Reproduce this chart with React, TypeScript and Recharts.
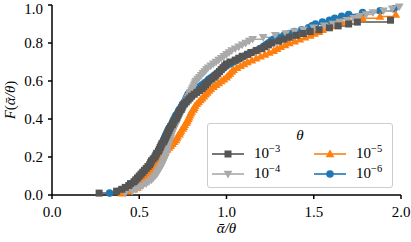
import { LineChart, Line, XAxis, YAxis, Legend, Label } from 'recharts';

const FONT = "'Liberation Serif', serif";

const ECDF_1E3: [number, number][] = [
  [0.27, 0.01], [0.37, 0.02], [0.40, 0.03], [0.42, 0.04], [0.44, 0.05], [0.45, 0.06],
  [0.47, 0.07], [0.48, 0.08], [0.49, 0.09], [0.50, 0.10], [0.51, 0.11], [0.52, 0.12],
  [0.53, 0.13], [0.54, 0.14], [0.55, 0.15], [0.56, 0.16], [0.565, 0.17], [0.57, 0.18],
  [0.58, 0.19], [0.59, 0.20], [0.595, 0.21], [0.60, 0.22], [0.61, 0.23], [0.615, 0.24],
  [0.62, 0.25], [0.625, 0.26], [0.63, 0.27], [0.64, 0.28], [0.645, 0.29], [0.65, 0.30],
  [0.655, 0.31], [0.66, 0.32], [0.665, 0.33], [0.67, 0.34], [0.675, 0.35], [0.68, 0.36],
  [0.69, 0.37], [0.695, 0.38], [0.70, 0.39], [0.71, 0.40], [0.715, 0.41], [0.72, 0.42],
  [0.725, 0.43], [0.73, 0.44], [0.74, 0.45], [0.745, 0.46], [0.75, 0.47], [0.76, 0.48],
  [0.77, 0.49], [0.78, 0.50], [0.79, 0.51], [0.80, 0.52], [0.815, 0.53], [0.83, 0.54],
  [0.845, 0.55], [0.86, 0.56], [0.87, 0.57], [0.88, 0.58], [0.89, 0.59], [0.90, 0.60],
  [0.915, 0.61], [0.93, 0.62], [0.94, 0.63], [0.95, 0.64], [0.96, 0.65], [0.97, 0.66],
  [0.98, 0.67], [0.99, 0.68], [1.00, 0.69], [1.02, 0.70], [1.05, 0.71], [1.07, 0.72],
  [1.09, 0.73], [1.12, 0.74], [1.14, 0.75], [1.17, 0.76], [1.20, 0.77], [1.22, 0.78],
  [1.24, 0.79], [1.26, 0.80], [1.30, 0.81], [1.33, 0.82], [1.36, 0.83], [1.40, 0.84],
  [1.44, 0.85], [1.48, 0.86], [1.53, 0.87], [1.59, 0.88], [1.64, 0.89], [1.70, 0.90],
  [1.75, 0.91], [1.94, 0.92],
];

const ECDF_1E4: [number, number][] = [
  [0.42, 0.01], [0.46, 0.02], [0.48, 0.03], [0.50, 0.04], [0.52, 0.05], [0.54, 0.06],
  [0.555, 0.07], [0.57, 0.08], [0.58, 0.09], [0.59, 0.10], [0.60, 0.11], [0.605, 0.12],
  [0.61, 0.13], [0.62, 0.14], [0.625, 0.15], [0.63, 0.16], [0.635, 0.17], [0.64, 0.18],
  [0.645, 0.19], [0.65, 0.20], [0.652, 0.21], [0.655, 0.22], [0.658, 0.23], [0.66, 0.24],
  [0.663, 0.25], [0.666, 0.26], [0.67, 0.27], [0.673, 0.28], [0.677, 0.29], [0.68, 0.30],
  [0.683, 0.31], [0.686, 0.32], [0.69, 0.33], [0.694, 0.34], [0.70, 0.35], [0.705, 0.36],
  [0.71, 0.37], [0.715, 0.38], [0.72, 0.39], [0.725, 0.40], [0.73, 0.41], [0.735, 0.42],
  [0.74, 0.43], [0.745, 0.44], [0.75, 0.45], [0.755, 0.46], [0.76, 0.47], [0.765, 0.48],
  [0.77, 0.49], [0.775, 0.50], [0.78, 0.51], [0.785, 0.52], [0.79, 0.53], [0.795, 0.54],
  [0.80, 0.55], [0.805, 0.56], [0.81, 0.57], [0.815, 0.58], [0.82, 0.59], [0.825, 0.60],
  [0.835, 0.61], [0.845, 0.62], [0.855, 0.63], [0.865, 0.64], [0.875, 0.65], [0.885, 0.66],
  [0.895, 0.67], [0.91, 0.68], [0.925, 0.69], [0.94, 0.70], [0.955, 0.71], [0.97, 0.72],
  [0.985, 0.73], [1.00, 0.74], [1.015, 0.75], [1.03, 0.76], [1.05, 0.77], [1.07, 0.78],
  [1.09, 0.79], [1.11, 0.80], [1.13, 0.81], [1.15, 0.82], [1.21, 0.83], [1.28, 0.84],
  [1.34, 0.85], [1.39, 0.86], [1.44, 0.87], [1.50, 0.88], [1.56, 0.89], [1.61, 0.90],
  [1.65, 0.91], [1.69, 0.92], [1.73, 0.93], [1.76, 0.94], [1.80, 0.95], [1.84, 0.96],
  [1.90, 0.97], [1.95, 0.98], [1.99, 0.99],
];

const ECDF_1E5: [number, number][] = [
  [0.40, 0.01], [0.44, 0.02], [0.47, 0.03], [0.49, 0.04], [0.50, 0.05], [0.51, 0.06],
  [0.52, 0.07], [0.53, 0.08], [0.54, 0.09], [0.55, 0.10], [0.56, 0.11], [0.565, 0.12],
  [0.57, 0.13], [0.58, 0.14], [0.585, 0.15], [0.59, 0.16], [0.60, 0.17], [0.61, 0.18],
  [0.615, 0.19], [0.62, 0.20], [0.63, 0.21], [0.64, 0.22], [0.65, 0.23], [0.66, 0.24],
  [0.67, 0.25], [0.68, 0.26], [0.69, 0.27], [0.70, 0.28], [0.71, 0.29], [0.715, 0.30],
  [0.72, 0.31], [0.73, 0.32], [0.735, 0.33], [0.74, 0.34], [0.75, 0.35], [0.755, 0.36],
  [0.76, 0.37], [0.77, 0.38], [0.775, 0.39], [0.78, 0.40], [0.785, 0.41], [0.79, 0.42],
  [0.795, 0.43], [0.80, 0.44], [0.81, 0.45], [0.815, 0.46], [0.82, 0.47], [0.83, 0.48],
  [0.84, 0.49], [0.85, 0.50], [0.86, 0.51], [0.87, 0.52], [0.88, 0.53], [0.89, 0.54],
  [0.90, 0.55], [0.91, 0.56], [0.925, 0.57], [0.94, 0.58], [0.955, 0.59], [0.97, 0.60],
  [0.985, 0.61], [1.00, 0.62], [1.01, 0.63], [1.02, 0.64], [1.03, 0.65], [1.04, 0.66],
  [1.06, 0.67], [1.08, 0.68], [1.10, 0.69], [1.12, 0.70], [1.145, 0.71], [1.17, 0.72],
  [1.195, 0.73], [1.22, 0.74], [1.245, 0.75], [1.27, 0.76], [1.29, 0.77], [1.31, 0.78],
  [1.335, 0.79], [1.36, 0.80], [1.39, 0.81], [1.42, 0.82], [1.45, 0.83], [1.48, 0.84],
  [1.505, 0.85], [1.53, 0.86], [1.55, 0.87], [1.57, 0.88], [1.60, 0.89], [1.63, 0.90],
  [1.66, 0.91], [1.70, 0.92], [1.78, 0.93], [1.88, 0.94], [1.97, 0.95],
];

const ECDF_1E6: [number, number][] = [
  [0.33, 0.01], [0.38, 0.02], [0.41, 0.03], [0.43, 0.04], [0.45, 0.05], [0.46, 0.06],
  [0.48, 0.07], [0.49, 0.08], [0.50, 0.09], [0.51, 0.10], [0.52, 0.11], [0.53, 0.12],
  [0.54, 0.13], [0.55, 0.14], [0.56, 0.15], [0.565, 0.16], [0.57, 0.17], [0.58, 0.18],
  [0.585, 0.19], [0.59, 0.20], [0.60, 0.21], [0.605, 0.22], [0.61, 0.23], [0.615, 0.24],
  [0.62, 0.25], [0.625, 0.26], [0.63, 0.27], [0.635, 0.28], [0.64, 0.29], [0.645, 0.30],
  [0.65, 0.31], [0.655, 0.32], [0.66, 0.33], [0.665, 0.34], [0.67, 0.35], [0.68, 0.36],
  [0.685, 0.37], [0.69, 0.38], [0.695, 0.39], [0.70, 0.40], [0.705, 0.41], [0.71, 0.42],
  [0.72, 0.43], [0.725, 0.44], [0.73, 0.45], [0.74, 0.46], [0.745, 0.47], [0.75, 0.48],
  [0.76, 0.49], [0.765, 0.50], [0.77, 0.51], [0.775, 0.52], [0.78, 0.53], [0.79, 0.54],
  [0.80, 0.55], [0.82, 0.56], [0.84, 0.57], [0.86, 0.58], [0.875, 0.59], [0.89, 0.60],
  [0.90, 0.61], [0.915, 0.62], [0.93, 0.63], [0.945, 0.64], [0.96, 0.65], [0.97, 0.66],
  [0.985, 0.67], [1.00, 0.68], [1.02, 0.69], [1.04, 0.70], [1.06, 0.71], [1.08, 0.72],
  [1.10, 0.73], [1.12, 0.74], [1.145, 0.75], [1.17, 0.76], [1.19, 0.77], [1.21, 0.78],
  [1.225, 0.79], [1.24, 0.80], [1.255, 0.81], [1.27, 0.82], [1.30, 0.83], [1.33, 0.84],
  [1.36, 0.85], [1.39, 0.86], [1.43, 0.87], [1.47, 0.88], [1.49, 0.89], [1.51, 0.90],
  [1.55, 0.91], [1.59, 0.92], [1.62, 0.93], [1.66, 0.94], [1.70, 0.95], [1.78, 0.96],
  [1.88, 0.97], [1.96, 0.98],
];

const X_TICKS = [0, 0.5, 1, 1.5, 2];
const Y_TICKS = [0, 0.2, 0.4, 0.6, 0.8, 1];

type Marker = 'square' | 'triangleDown' | 'triangleUp' | 'circle';
interface Series {
  name: string;
  exponent: string;
  color: string;
  marker: Marker;
  points: [number, number][];
}

// Legend order (column-major, two columns): 1e-3, 1e-4 | 1e-5, 1e-6
const SERIES: Series[] = [
  { name: '1e-3', exponent: '−3', color: '#555555', marker: 'square', points: ECDF_1E3 },
  { name: '1e-4', exponent: '−4', color: '#aaaaaa', marker: 'triangleDown', points: ECDF_1E4 },
  { name: '1e-5', exponent: '−5', color: '#ff7f0e', marker: 'triangleUp', points: ECDF_1E5 },
  { name: '1e-6', exponent: '−6', color: '#1f77b4', marker: 'circle', points: ECDF_1E6 },
];

// dark gray ends up on top, like the figure
const DRAW_ORDER = [3, 2, 1, 0];

function MarkerShape({ marker, cx, cy, color }: { marker: Marker; cx: number; cy: number; color: string }) {
  if (marker === 'square') {
    return <rect x={cx - 3.5} y={cy - 3.5} width={7} height={7} fill={color} />;
  }
  if (marker === 'circle') {
    return <circle cx={cx} cy={cy} r={3.8} fill={color} />;
  }
  const h = 4.4;
  const d =
    marker === 'triangleUp'
      ? `M${cx},${cy - h} L${cx + h},${cy + h * 0.75} L${cx - h},${cy + h * 0.75} Z`
      : `M${cx},${cy + h} L${cx + h},${cy - h * 0.75} L${cx - h},${cy - h * 0.75} Z`;
  return <path d={d} fill={color} />;
}

function ThetaLegend() {
  const pos = [
    { left: 4, top: 20 },
    { left: 4, top: 40 },
    { left: 106, top: 20 },
    { left: 106, top: 40 },
  ];
  return (
    <div
      style={{
        position: 'relative',
        width: 186,
        height: 65,
        boxSizing: 'border-box',
        border: '1px solid #cccccc',
        borderRadius: 3,
        background: 'rgba(255,255,255,0.85)',
        fontFamily: FONT,
        fontSize: 15,
        color: '#000'
      }}>

      <div style={{ position: 'absolute', left: 0, right: 0, top: 3, textAlign: 'center', fontStyle: 'italic', lineHeight: '16px' }}>
        θ
      </div>
      {SERIES.map((s, i) =>
      <div
        key={s.name}
        style={{ position: 'absolute', left: pos[i].left, top: pos[i].top, height: 20, display: 'flex', alignItems: 'center' }}>

          <svg width={32} height={14} style={{ display: 'block' }}>
            <line x1={0} y1={7} x2={32} y2={7} stroke={s.color} strokeWidth={1.6} />
            <MarkerShape marker={s.marker} cx={16} cy={7} color={s.color} />
          </svg>
          <span style={{ marginLeft: 10, whiteSpace: 'nowrap', lineHeight: '20px' }}>
            10<span style={{ fontSize: 10.5, position: 'relative', top: -6 }}>{s.exponent}</span>
          </span>
        </div>
      )}
    </div>);

}

export default function App() {
  const axisStyle = { stroke: '#000', strokeWidth: 1.5 };
  return (
    <div style={{ position: 'absolute', left: 0, top: 0, width: 411, height: 242, background: '#fff' }}>
      <LineChart width={411} height={242} margin={{ top: 5, right: 10, bottom: 0, left: 0 }}>
        <XAxis
          type="number"
          dataKey="x"
          domain={[0, 2]}
          ticks={X_TICKS}
          tickFormatter={(v: number) => v.toFixed(1)}
          height={47}
          tickSize={4}
          tickMargin={7}
          axisLine={axisStyle}
          tickLine={axisStyle}
          tick={{ fill: '#000', fontSize: 15, fontFamily: FONT }}>

          <Label
            content={({ viewBox }: any) =>
            <text
              x={viewBox.x + viewBox.width / 2}
              y={233}
              textAnchor="middle"
              fontFamily={FONT}
              fontSize={15}
              fontStyle="italic"
              fill="#000">

                ᾱ/θ
              </text>
            } />

        </XAxis>
        <YAxis
          type="number"
          domain={[0, 1]}
          ticks={Y_TICKS}
          tickFormatter={(v: number) => v.toFixed(1)}
          width={52}
          tickSize={4}
          tickMargin={5}
          axisLine={axisStyle}
          tickLine={axisStyle}
          tick={{ fill: '#000', fontSize: 15, fontFamily: FONT }}>

          <Label
            content={({ viewBox }: any) => {
              const cx = 10;
              const cy = viewBox.y + viewBox.height / 2;
              return (
                <text
                  x={cx}
                  y={cy}
                  transform={`rotate(-90 ${cx} ${cy})`}
                  textAnchor="middle"
                  dominantBaseline="central"
                  fontFamily={FONT}
                  fontSize={15}
                  fill="#000">

                  <tspan fontStyle="italic">F</tspan>(<tspan fontStyle="italic">ᾱ/θ</tspan>)
                </text>);

            }} />

        </YAxis>
        {DRAW_ORDER.map((i) => {
          const s = SERIES[i];
          const data = s.points.map(([x, y]) => ({ x, y }));
          return (
            <Line
              key={s.name}
              data={data}
              dataKey="y"
              name={s.name}
              type="stepAfter"
              stroke={s.color}
              strokeWidth={1.5}
              isAnimationActive={false}
              dot={(p: any) =>
              <MarkerShape key={`${s.name}-${p.index}`} marker={s.marker} cx={p.cx} cy={p.cy} color={s.color} />
              }
              activeDot={false} />);


        })}
        <Legend
          layout="horizontal"
          verticalAlign="middle"
          align="center"
          wrapperStyle={{ left: 207, top: 123, width: 186, height: 65 }}
          content={() => <ThetaLegend />} />

      </LineChart>
    </div>);

}
